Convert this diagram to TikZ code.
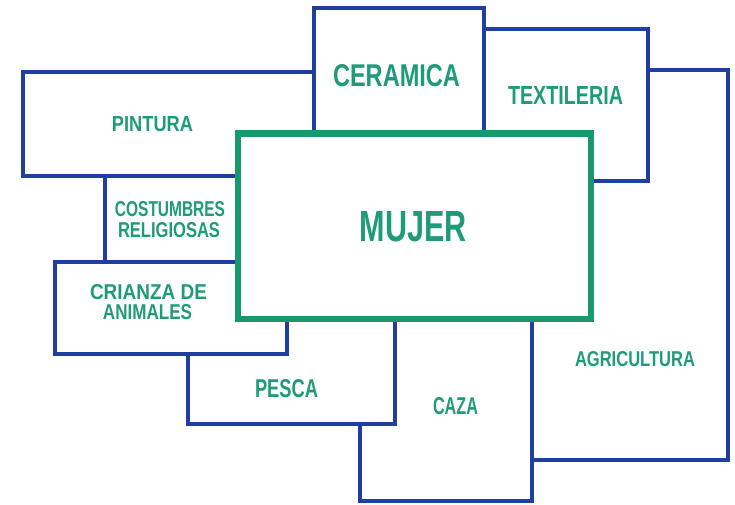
\documentclass[tikz,border=0pt]{standalone}
\usepackage{fontspec}
\setmainfont{Liberation Sans}
\usepackage{graphicx}
\definecolor{boxblue}{RGB}{30,62,160}
\definecolor{boxgreen}{RGB}{24,152,108}
\definecolor{txtgreen}{RGB}{30,155,120}
\newcommand\lbltxt[3]{\resizebox{#1pt}{#2pt}{\bfseries #3}}
\tikzset{
  bluebox/.style={draw=boxblue, line width=3.6pt, fill=white, inner sep=0pt, outer sep=0pt},
  greenbox/.style={draw=boxgreen, line width=6.5pt, fill=white, inner sep=0pt, outer sep=0pt},
  lbl/.style={text=txtgreen, inner sep=0pt, outer sep=0pt, anchor=center}
}
\begin{document}
\begin{tikzpicture}[x=1pt,y=-1pt]
\useasboundingbox (0,0) rectangle (735,505);
% boxes, from the lowest to the top
\node[bluebox, minimum width=196pt, minimum height=390pt] (agri) at (630,265) {};
\node[bluebox, minimum width=172pt, minimum height=201pt] (caza) at (446,400.5) {};
\node[bluebox, minimum width=207pt, minimum height=124pt] (pesca) at (291.5,362) {};
\node[bluebox, minimum width=178pt, minimum height=152pt] (text) at (559,105) {};
\node[bluebox, minimum width=155pt, minimum height=110pt] (cost) at (182.5,215) {};
\node[bluebox, minimum width=307pt, minimum height=104pt] (pint) at (176.5,124) {};
\node[bluebox, minimum width=232pt, minimum height=92pt] (cria) at (171,308) {};
\node[bluebox, minimum width=170pt, minimum height=142pt] (cera) at (399,79) {};
\node[greenbox, minimum width=353pt, minimum height=185.5pt] (mujer) at (414.5,226.25) {};
% labels
\node[lbl] (pinttxt) at (152.5,124.5) {\lbltxt{81}{15}{PINTURA}};
\node[lbl] (ceratxt) at (396.5,76) {\lbltxt{127}{22}{CERAMICA}};
\node[lbl] (texttxt) at (565.5,96) {\lbltxt{115}{18}{TEXTILERIA}};
\node[lbl] (mujertxt) at (413.5,227) {\lbltxt{107}{30}{MUJER}};
\node[lbl] (costtxta) at (170,209.5) {\lbltxt{110}{15}{COSTUMBRES}};
\node[lbl] (costtxtb) at (169,230.5) {\lbltxt{102}{15}{RELIGIOSAS}};
\node[lbl] (criatxta) at (148.5,292.5) {\lbltxt{117}{15}{CRIANZA DE}};
\node[lbl] (criatxtb) at (147.5,312.5) {\lbltxt{89}{15}{ANIMALES}};
\node[lbl] (pescatxt) at (286.5,389) {\lbltxt{63}{18}{PESCA}};
\node[lbl] (cazatxt) at (455.5,406.5) {\lbltxt{45}{17}{CAZA}};
\node[lbl] (agritxt) at (635,359.5) {\lbltxt{120}{15}{AGRICULTURA}};
\end{tikzpicture}
\end{document}
